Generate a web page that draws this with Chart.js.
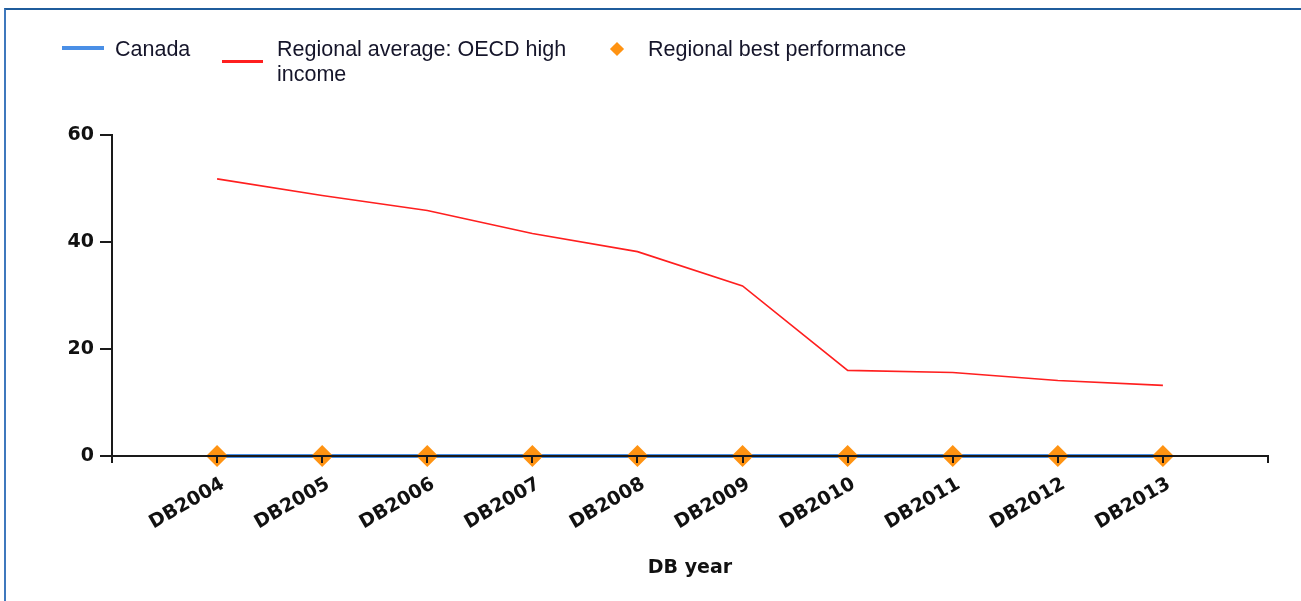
<!DOCTYPE html>
<html>
<head>
<meta charset="utf-8">
<script src="https://cdn.jsdelivr.net/npm/chart.js@4/dist/chart.umd.min.js"></script>
<style>
  html, body { margin: 0; padding: 0; background: #fff; }
  #wrap { position: relative; width: 1301px; height: 601px; overflow: hidden; }
  #frame { position: absolute; left: 4px; top: 8px; right: -10px; bottom: -10px;
           border-top: 2px solid #1f5c9c; border-left: 2px solid #3f78bd; }
  canvas { position: absolute; left: 0; top: 0; }
  .lg { position: absolute; font-family: "Liberation Sans", Arial, sans-serif; font-size: 21.5px;
        color: #15152a; line-height: 25px; }
  .sw { position: absolute; }
</style>
</head>
<body>
<div id="wrap">
  <div id="frame"></div>
  <canvas id="c" width="1301" height="601"></canvas>
  <div id="legend"></div>
</div>
<script>
const years = ['DB2004','DB2005','DB2006','DB2007','DB2008','DB2009','DB2010','DB2011','DB2012','DB2013'];
const canada = [0, 0, 0, 0, 0, 0, 0, 0, 0, 0];
const regionalAverage = [51.8, 48.7, 45.9, 41.6, 38.2, 31.8, 16.0, 15.6, 14.1, 13.2];
const regionalBest = [0, 0, 0, 0, 0, 0, 0, 0, 0, 0];
const yTicks = [0, 20, 40, 60];

const seriesNames = ['Canada', 'Regional average: OECD high income', 'Regional best performance'];

// pad one empty slot on each side of the category axis
const labels = [''].concat(years, ['']);
const pad = arr => [null].concat(arr, [null]);

const tickFont = { family: '"DejaVu Sans", Verdana, sans-serif', size: 19, weight: 'bold' };

const chart = new Chart(document.getElementById('c'), {
  type: 'line',
  data: {
    labels: labels,
    datasets: [
      { label: seriesNames[0], data: pad(canada), borderColor: '#4a8fe6', backgroundColor: '#4a8fe6',
        borderWidth: 4, pointRadius: 0, clip: false, order: 3 },
      { label: seriesNames[1], data: pad(regionalAverage), borderColor: '#ff1f1f', backgroundColor: '#ff1f1f',
        borderWidth: 1.6, pointRadius: 0, tension: 0, order: 2 },
      { label: seriesNames[2], data: pad(regionalBest), showLine: false, pointStyle: 'rectRot',
        pointRadius: 11, pointHoverRadius: 11, borderWidth: 0, backgroundColor: '#ff9312', borderColor: '#ff9312',
        clip: false, order: 1 }
    ]
  },
  options: {
    responsive: false,
    animation: false,
    events: [],
    layout: { padding: { left: 0, top: 135, right: 33, bottom: 0 } },
    plugins: { legend: { display: false }, tooltip: { enabled: false } },
    scales: {
      x: {
        type: 'category',
        offset: false,
        afterFit: s => { s.height = 145; },
        border: { display: true, color: '#1a1a1a', width: 2, z: 1 },
        grid: { display: true, drawOnChartArea: false, drawTicks: true, tickLength: 7, color: '#1a1a1a', lineWidth: 2, z: 1 },
        ticks: { autoSkip: false, minRotation: 30, maxRotation: 30, padding: 10, labelOffset: 6, color: '#111', font: tickFont },
        title: { display: true, text: 'DB year', color: '#111', font: tickFont, padding: { top: 4, bottom: 22 } }
      },
      y: {
        min: 0, max: 60,
        afterFit: s => { s.width = 112; },
        afterBuildTicks: s => { s.ticks = yTicks.map(v => ({ value: v })); },
        border: { display: true, color: '#1a1a1a', width: 2 },
        grid: { display: true, drawOnChartArea: false, drawTicks: true, tickLength: 12, color: '#1a1a1a', lineWidth: 2 },
        ticks: { padding: 6, color: '#111', font: tickFont }
      }
    }
  }
});

// HTML legend built from the chart's datasets
const lg = document.getElementById('legend');
const items = [
  { sx: 62, sy: 48, kind: 'line', h: 4, w: 42, tx: 115, ty: 37, width: null },
  { sx: 222, sy: 61, kind: 'line', h: 3, w: 41, tx: 277, ty: 37, width: 305 },
  { sx: 617, sy: 49, kind: 'diamond', tx: 648, ty: 37, width: null }
];
chart.data.datasets.forEach((ds, i) => {
  const it = items[i];
  const sw = document.createElement('div');
  sw.className = 'sw';
  if (it.kind === 'line') {
    sw.style.cssText = `left:${it.sx}px;top:${it.sy - it.h/2}px;width:${it.w}px;height:${it.h}px;background:${ds.borderColor};`;
  } else {
    sw.style.cssText = `left:${it.sx - 5}px;top:${it.sy - 5}px;width:10px;height:10px;background:${ds.backgroundColor};transform:rotate(45deg);`;
  }
  lg.appendChild(sw);
  const t = document.createElement('div');
  t.className = 'lg';
  t.textContent = ds.label;
  t.style.left = it.tx + 'px';
  t.style.top = it.ty + 'px';
  if (it.width) t.style.width = it.width + 'px';
  lg.appendChild(t);
});
</script>
</body>
</html>
